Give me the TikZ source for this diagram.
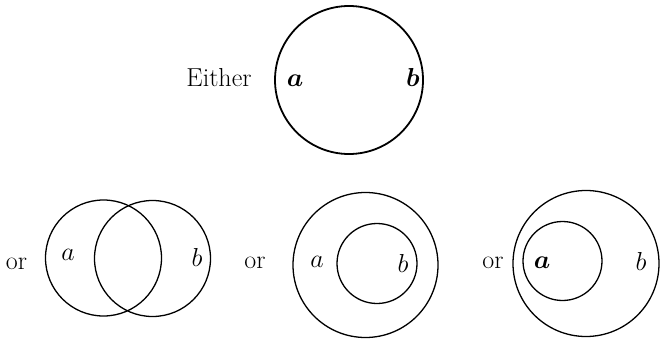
\RequirePackage{fix-cm}
\documentclass[tikz,border=0pt]{standalone}
\usepackage{amsmath}
\usepackage{bm}
\usepackage{tikz}

\begin{document}
\begin{tikzpicture}[x=1pt, y=-1pt,
  every node/.style={font=\fontsize{26}{30}\selectfont},
  ring/.style={draw, circle, inner sep=0pt, line width=1.3pt},
  label/.style={anchor=base, inner sep=0pt}]
\useasboundingbox (0,0) rectangle (660,339);

\node[ring, line width=1.8pt, minimum size=148pt] (whole) at (349,80) {};
\node[label] (either) at (219,87) {Either};
\node[label] (wa) at (295,87) {$\bm{a}$};
\node[label] (wb) at (413,87) {$\bm{b}$};

\node[ring, minimum size=116pt] (ova) at (103.5,258) {};
\node[ring, minimum size=116pt] (ovb) at (152.5,258.5) {};
\node[label] (or1) at (16.5,269) {or};
\node[label] (ova-l) at (68,260) {$a$};
\node[label] (ovb-l) at (197,266) {$b$};

\node[ring, minimum size=145pt] (ina) at (365.5,265) {};
\node[ring, minimum size=80pt] (inb) at (377,263.5) {};
\node[label] (or2) at (255,268) {or};
\node[label] (ina-l) at (317,267) {$a$};
\node[label] (inb-l) at (403,272) {$b$};

\node[ring, minimum size=146pt] (outb) at (586,263.5) {};
\node[ring, minimum size=79pt] (outa) at (562.5,261) {};
\node[label] (or3) at (493,268) {or};
\node[label] (outa-l) at (542,268) {$\bm{a}$};
\node[label] (outb-l) at (641,270) {$b$};
\end{tikzpicture}
\end{document}
